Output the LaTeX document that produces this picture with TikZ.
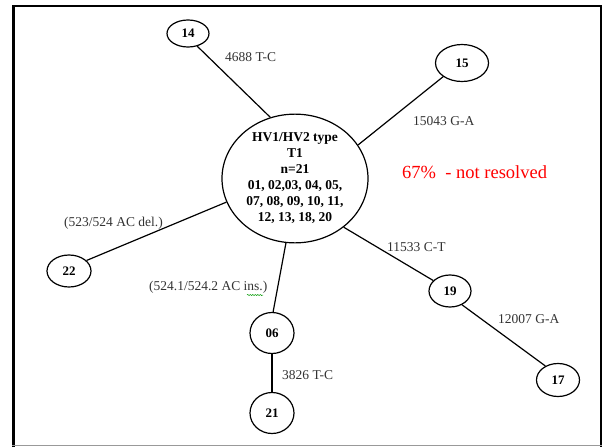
\documentclass[tikz,border=0pt]{standalone}
\usepackage{fontspec}
\setmainfont{Liberation Serif}
\usetikzlibrary{shapes.geometric,decorations.pathmorphing}
\begin{document}
\begin{tikzpicture}[x=1pt,y=-1pt,
  hap/.style={draw,ellipse,line width=1.2pt,inner sep=0pt,font=\fontsize{13}{15}\selectfont\bfseries},
  edge/.style={line width=1.2pt},
  mut/.style={font=\fontsize{13.5}{16}\selectfont,text=black!80,inner sep=0pt}]
\useasboundingbox (0,0) rectangle (602,447);
% frame
\draw[line width=3pt] (13.5,447) -- (13.5,6);
\draw[line width=2.5pt] (12,6) -- (602,6);
\draw[line width=2pt] (600.5,6) -- (600.5,447);
\draw[line width=1pt,black!40] (12,445.5) -- (602,445.5);
% nodes
\node[hap,minimum width=146pt,minimum height=128pt,align=center,font=\fontsize{13.5}{16}\selectfont\bfseries] (c) at (295,178.5)
  {HV1/HV2 type\\T1\\n=21\\01, 02,03, 04, 05,\\07, 08, 09, 10, 11,\\12, 13, 18, 20};
\node[hap,minimum width=42pt,minimum height=27pt] (n14) at (188,33.5) {14};
\node[hap,minimum width=53pt,minimum height=37pt] (n15) at (462,63) {15};
\node[hap,minimum width=44pt,minimum height=32pt] (n22) at (69,271) {22};
\node[hap,minimum width=44pt,minimum height=41pt] (n06) at (272,333) {06};
\node[hap,minimum width=44pt,minimum height=41pt] (n21) at (272,413) {21};
\node[hap,minimum width=42pt,minimum height=32pt] (n19) at (450,291) {19};
\node[hap,minimum width=43pt,minimum height=33pt] (n17) at (558,380) {17};
% edges
\draw[edge] (n14.-54) -- (c.112);
\draw[edge] (n15.216) -- (c.28);
\draw[edge] (n22.31) -- (c.199);
\draw[edge] (n06.87) -- (c.262);
\draw[edge] (n06.270) -- (n21.90);
\draw[edge] (c.315) -- (n19.148);
\draw[edge] (n19.-49) -- (n17.132);
% labels
\node[mut,anchor=west] (l1) at (225,57) {4688 T-C};
\node[mut,anchor=west] (l2) at (413,121) {15043 G-A};
\node[mut,anchor=west] (l3) at (64,223) {(523/524 AC del.)};
\node[mut,anchor=west] (l4) at (149,287) {(524.1/524.2 AC ins.)};
\node[mut,anchor=west] (l5) at (282,375) {3826 T-C};
\node[mut,anchor=west] (l6) at (387,247) {11533 C-T};
\node[mut,anchor=west] (l7) at (498,319) {12007 G-A};
\node[font=\fontsize{18.5}{22}\selectfont,text=red,anchor=west,inner sep=0pt] (red) at (402,172) {67\% \ - not resolved};
\draw[green!60!black,line width=0.5pt,decorate,decoration={snake,amplitude=0.6pt,segment length=2.5pt}] (247,295) -- (263,295);
\end{tikzpicture}
\end{document}
